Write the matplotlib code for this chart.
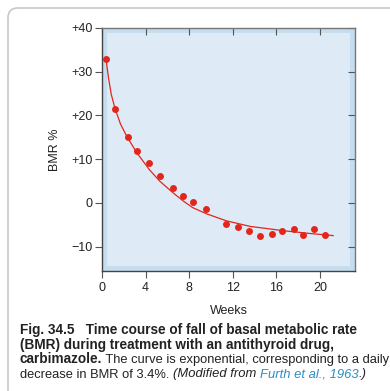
import matplotlib.pyplot as plt
from matplotlib.patches import Rectangle, FancyBboxPatch

plt.rcParams['font.family'] = ['Liberation Sans', 'DejaVu Sans']

# measured points (weeks, BMR %)
weeks = [0.37, 1.19, 2.35, 3.18, 4.34, 5.35, 6.51, 7.4, 8.32, 9.57,
         11.38, 12.48, 13.49, 14.46, 15.56, 16.54, 17.61, 18.4, 19.48, 20.46]
bmr = [32.9, 21.5, 15.0, 11.8, 9.0, 6.2, 3.5, 1.6, 0.1, -1.5,
       -4.8, -5.5, -6.5, -7.6, -7.1, -6.4, -6.0, -7.3, -6.0, -7.3]

# fitted exponential curve
curve_weeks = [0.37, 0.6, 0.85, 1.19, 1.7, 2.32, 3.18, 4.34, 5.32, 6.51,
               7.46, 8.32, 9.57, 11.38, 13.6, 16.7, 19.0, 21.2]
curve_bmr = [32.9, 28.5, 24.8, 21.6, 18.0, 15.0, 11.5, 7.6, 4.9, 2.3,
             0.4, -1.1, -2.5, -4.1, -5.4, -6.4, -7.0, -7.5]

yticks = [-10, 0, 10, 20, 30, 40]
ytick_labels = ['\u221210', '0', '+10', '+20', '+30', '+40']
xticks = [0, 4, 8, 12, 16, 20]

red = '#e2261c'
dark = '#222222'
link = '#2a8cc4'

fig = plt.figure(figsize=(3.9, 3.91), dpi=100)

# rounded frame around the figure
frame = FancyBboxPatch((8 / 390, 1 - 420 / 391), 420 / 390, 412 / 391,
                       boxstyle='round,pad=0,rounding_size=0.025',
                       transform=fig.transFigure, fc='none', ec='#c8c8c8',
                       lw=1.2, zorder=-5)
fig.patches.append(frame)

ax = fig.add_axes([102 / 390, 1 - 271 / 391, 253 / 390, 243 / 391])
ax.set_facecolor('#c6dcef')
ax.add_patch(Rectangle((0.02, 0.022), 0.96, 0.956, transform=ax.transAxes,
                       fc='#deeaf6', ec='none', zorder=0))

ax.plot(curve_weeks, curve_bmr, color=red, lw=0.9, zorder=2)
ax.plot(weeks, bmr, 'o', color=red, ms=5, mec='none', zorder=3)

ax.set_xlim(0, 23.2)
ax.set_ylim(-15.6, 40)
ax.set_xticks(xticks)
ax.set_yticks(yticks)
ax.set_yticklabels(ytick_labels)
ax.tick_params(labelsize=9, colors='#555555', labelcolor=dark, length=5, width=0.8)
ax.tick_params(top=True, right=True)
ax.tick_params(axis='x', pad=3)
ax.tick_params(axis='y', pad=2)
# top/right ticks point inward
for tk in ax.xaxis.get_major_ticks():
    tk.tick2line.set_marker(3)
for tk in ax.yaxis.get_major_ticks():
    tk.tick2line.set_marker(0)

for side in ['left', 'bottom']:
    ax.spines[side].set_color('#444444')
    ax.spines[side].set_linewidth(1.0)
for side in ['top', 'right']:
    ax.spines[side].set_color('#777777')
    ax.spines[side].set_linewidth(1.0)

ax.set_ylabel('BMR %', fontsize=9, color=dark, labelpad=7)
ax.set_xlabel('Weeks', fontsize=9, color=dark, labelpad=8)

# caption: pieces of each line set one after the other on the same baseline
sizes = {'bold': 9.8, 'normal': 9.3, 'italic': 9.4}
x0 = 20 / 390
lines = [
    [('Fig. 34.5   Time course of fall of basal metabolic rate', 'bold', dark)],
    [('(BMR) during treatment with an antithyroid drug,', 'bold', dark)],
    [('carbimazole.', 'bold', dark),
     (' The curve is exponential, corresponding to a daily', 'normal', dark)],
    [('decrease in BMR of 3.4%. ', 'normal', dark),
     ('(Modified from ', 'italic', dark),
     ('Furth et al., 1963', 'italic', link),
     ('.)', 'italic', dark)],
]
baselines = [334, 348.5, 363, 377.5]

r = fig.canvas.get_renderer()
inv = fig.transFigure.inverted()
for pieces, base in zip(lines, baselines):
    x = x0
    y = 1 - base / 391
    for s, kind, col in pieces:
        tx = fig.text(x, y, s, fontsize=sizes[kind],
                      fontweight='bold' if kind == 'bold' else 'normal',
                      style='italic' if kind == 'italic' else 'normal',
                      color=col, va='baseline', ha='left')
        bb = tx.get_window_extent(r)
        x = inv.transform((bb.x1, bb.y0))[0]

fig.savefig('out.png', dpi=100)
